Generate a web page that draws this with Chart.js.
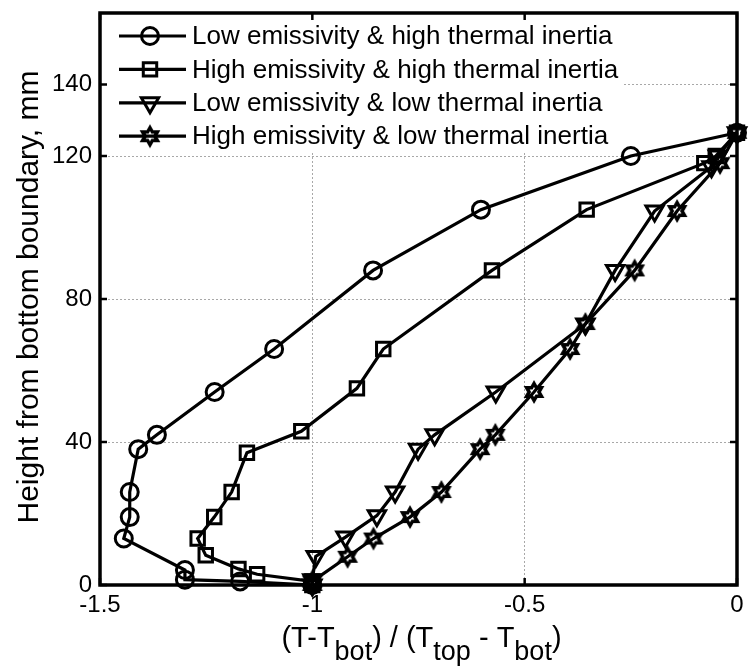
<!DOCTYPE html>
<html>
<head>
<meta charset="utf-8">
<script src="https://cdn.jsdelivr.net/npm/chart.js@4.4.1/dist/chart.umd.min.js"></script>
<style>
html, body { margin: 0; padding: 0; background: #fff; }
</style>
</head>
<body>
<canvas id="chart" width="750" height="667"></canvas>
<script>
// series labels
var seriesNames = [
    'Low emissivity & high thermal inertia',
    'High emissivity & high thermal inertia',
    'Low emissivity & low thermal inertia',
    'High emissivity & low thermal inertia'
];

// Low emissivity & high thermal inertia (circles)
var lowEmHighInX = [-1.0, -1.17, -1.3, -1.3, -1.444, -1.43, -1.43, -1.41, -1.366, -1.23, -1.09, -0.857, -0.603, -0.25, 0];
var lowEmHighInY = [0, 1, 1.5, 4.2, 13, 19, 26, 38, 42, 54, 66, 88, 105, 120, 126.5];

// High emissivity & high thermal inertia (squares)
var highEmHighInX = [-1.0, -1.0, -1.13, -1.174, -1.251, -1.27, -1.231, -1.19, -1.154, -1.026, -0.895, -0.833, -0.577, -0.354, -0.077, -0.05, 0];
var highEmHighInY = [0, 1, 3, 4.5, 8.3, 13, 19, 26, 37, 43, 55, 66, 88, 105, 118, 120, 126.5];

// Low emissivity & low thermal inertia (triangles)
var lowEmLowInX = [-1.0, -1.0, -0.992, -0.922, -0.848, -0.805, -0.751, -0.712, -0.568, -0.357, -0.287, -0.194, -0.06, -0.045, 0];
var lowEmLowInY = [0, 1.5, 8, 13.4, 19.4, 26, 38, 42, 54, 73, 88, 104.6, 117, 120, 126.5];

// High emissivity & low thermal inertia (stars)
var highEmLowInX = [-1.0, -1.0, -0.917, -0.856, -0.77, -0.696, -0.605, -0.569, -0.478, -0.393, -0.357, -0.241, -0.141, -0.04, 0];
var highEmLowInY = [0, 1, 7.9, 13, 19, 26, 38, 42, 54, 66, 73, 88, 104.6, 118, 126.5];

var xTicks = [-1.5, -1, -0.5, 0];
var yTicks = [0, 40, 80, 120, 140];

var FONT = "'Liberation Sans', Arial, sans-serif";

// six pointed star marker, drawn once on a small canvas
function makeHexagram(r, lw) {
    var c = document.createElement('canvas');
    var s = Math.ceil(2 * r + lw * 2 + 2);
    c.width = s; c.height = s;
    var g = c.getContext('2d');
    g.strokeStyle = '#000';
    g.lineWidth = lw;
    g.lineJoin = 'miter';
    var cx = s / 2, cy = s / 2;
    g.beginPath();
    for (var k = 0; k < 12; k++) {
        var ang = -Math.PI / 2 + k * Math.PI / 6;
        var rr = (k % 2 === 0) ? r : r * 0.577;
        var px = cx + rr * Math.cos(ang), py = cy + rr * Math.sin(ang);
        if (k === 0) g.moveTo(px, py); else g.lineTo(px, py);
    }
    g.closePath();
    g.stroke();
    return c;
}
var hexagram = makeHexagram(8.5, 3.5);

function toPoints(xs, ys) {
    var out = [];
    for (var i = 0; i < xs.length; i++) out.push({ x: xs[i], y: ys[i] });
    return out;
}

var markers = [
    { style: 'circle', radius: 8.5, rotation: 0 },
    { style: 'rect', radius: 9.5, rotation: 0 },
    { style: 'triangle', radius: 10, rotation: 180 },
    { style: hexagram, radius: 9, rotation: 0 }
];
var seriesData = [
    toPoints(lowEmHighInX, lowEmHighInY),
    toPoints(highEmHighInX, highEmHighInY),
    toPoints(lowEmLowInX, lowEmLowInY),
    toPoints(highEmLowInX, highEmLowInY)
];

var datasets = seriesData.map(function(d, i) {
    return {
        label: seriesNames[i],
        data: d,
        borderColor: '#000',
        borderWidth: 3.2,
        pointStyle: markers[i].style,
        pointRadius: markers[i].radius,
        pointRotation: markers[i].rotation,
        pointBorderColor: '#000',
        pointBackgroundColor: 'rgba(0,0,0,0)',
        pointBorderWidth: 3,
        showLine: true,
        tension: 0,
        clip: false
    };
});

function drawMarker(ctx, m, x, y) {
    ctx.save();
    ctx.strokeStyle = '#000';
    ctx.lineWidth = 3;
    ctx.beginPath();
    if (m.style === 'circle') {
        ctx.arc(x, y, m.radius, 0, Math.PI * 2);
        ctx.stroke();
    } else if (m.style === 'rect') {
        var h = m.radius * Math.SQRT1_2;
        ctx.rect(x - h, y - h, 2 * h, 2 * h);
        ctx.stroke();
    } else if (m.style === 'triangle') {
        var r = m.radius;
        ctx.moveTo(x, y + r);
        ctx.lineTo(x - r * 0.866, y - r * 0.5);
        ctx.lineTo(x + r * 0.866, y - r * 0.5);
        ctx.closePath();
        ctx.stroke();
    } else {
        ctx.drawImage(m.style, x - m.style.width / 2, y - m.style.height / 2);
    }
    ctx.restore();
}

function seg(ctx, x1, y1, x2, y2) {
    ctx.beginPath();
    ctx.moveTo(x1, y1);
    ctx.lineTo(x2, y2);
    ctx.stroke();
}

// axes box, inward ticks, legend, axis titles
var framePlugin = {
    id: 'frame',
    beforeDatasetsDraw: function(chart) {
        var ctx = chart.ctx, a = chart.chartArea;
        var xs = chart.scales.x, ys = chart.scales.y;
        ctx.save();
        // legend background
        ctx.fillStyle = '#fff';
        ctx.fillRect(a.left, a.top, 522, 140);

        ctx.strokeStyle = '#000';
        ctx.lineWidth = 3.5;
        ctx.strokeRect(a.left, a.top, a.right - a.left, a.bottom - a.top);

        ctx.lineWidth = 2.5;
        xs.ticks.forEach(function(t) {
            var p = xs.getPixelForValue(t.value);
            seg(ctx, p, a.bottom, p, a.bottom - 7);
            seg(ctx, p, a.top, p, a.top + 7);
        });
        ys.ticks.forEach(function(t) {
            var p = ys.getPixelForValue(t.value);
            seg(ctx, a.left, p, a.left + 7, p);
            seg(ctx, a.right, p, a.right - 7, p);
        });

        // legend entries
        ctx.font = '26px ' + FONT;
        ctx.fillStyle = '#000';
        ctx.textBaseline = 'middle';
        ctx.textAlign = 'left';
        for (var i = 0; i < seriesNames.length; i++) {
            var ly = a.top + 23 + i * 33.4;
            ctx.strokeStyle = '#000';
            ctx.lineWidth = 3.2;
            seg(ctx, a.left + 19, ly, a.left + 86, ly);
            drawMarker(ctx, markers[i], a.left + 50, ly);
            ctx.fillText(seriesNames[i], a.left + 92, ly + 1);
        }
        ctx.restore();
    },
    afterDraw: function(chart) {
        var ctx = chart.ctx, a = chart.chartArea;
        ctx.save();
        ctx.fillStyle = '#000';
        // y title
        ctx.font = '30px ' + FONT;
        ctx.translate(30, 297);
        ctx.rotate(-Math.PI / 2);
        ctx.textAlign = 'center';
        ctx.textBaseline = 'middle';
        ctx.fillText('Height from bottom boundary, mm', 0, 0);
        ctx.restore();

        // x title with subscripts
        ctx.save();
        ctx.fillStyle = '#000';
        ctx.textBaseline = 'alphabetic';
        ctx.textAlign = 'left';
        var parts = [
            ['(T-T', 0], ['bot', 1], [') / (T', 0], ['top', 1], [' - T', 0], ['bot', 1], [')', 0]
        ];
        var mainF = '29px ' + FONT, subF = '27px ' + FONT;
        var total = 0;
        parts.forEach(function(p) { ctx.font = p[1] ? subF : mainF; total += ctx.measureText(p[0]).width; });
        var x = (a.left + a.right) / 2 - total / 2 + 3;
        var base = 647;
        parts.forEach(function(p) {
            ctx.font = p[1] ? subF : mainF;
            ctx.fillText(p[0], x, p[1] ? base + 13 : base);
            x += ctx.measureText(p[0]).width;
        });
        ctx.restore();
    }
};

Chart.defaults.font.family = FONT;
Chart.defaults.color = '#000';

var chart = new Chart(document.getElementById('chart'), {
    type: 'scatter',
    data: { datasets: datasets },
    options: {
        responsive: false,
        animation: false,
        devicePixelRatio: 1,
        layout: { padding: { left: 0, top: 8, right: 7, bottom: 0 } },
        plugins: {
            legend: { display: false },
            tooltip: { enabled: false }
        },
        scales: {
            x: {
                type: 'linear',
                min: -1.5,
                max: 0,
                afterBuildTicks: function(scale) {
                    scale.ticks = xTicks.map(function(v) { return { value: v }; });
                },
                afterFit: function(scale) {
                    scale.height = 82;
                    scale.paddingLeft = 0;
                    scale.paddingRight = 0;
                },
                ticks: {
                    autoSkip: false,
                    maxRotation: 0,
                    padding: 6,
                    font: { size: 24 },
                    callback: function(v) { return String(v); }
                },
                grid: { color: '#a8a8a8', lineWidth: 1, drawTicks: false },
                border: { display: false, dash: [2, 2] }
            },
            y: {
                type: 'linear',
                min: 0,
                max: 160,
                afterBuildTicks: function(scale) {
                    scale.ticks = yTicks.map(function(v) { return { value: v }; });
                },
                afterFit: function(scale) {
                    scale.width = 100;
                    scale.paddingTop = 0;
                    scale.paddingBottom = 0;
                },
                ticks: {
                    autoSkip: false,
                    padding: 8,
                    font: { size: 24 },
                    callback: function(v) { return String(v); }
                },
                grid: { color: '#a8a8a8', lineWidth: 1, drawTicks: false },
                border: { display: false, dash: [2, 2] }
            }
        }
    },
    plugins: [framePlugin]
});
</script>
</body>
</html>
